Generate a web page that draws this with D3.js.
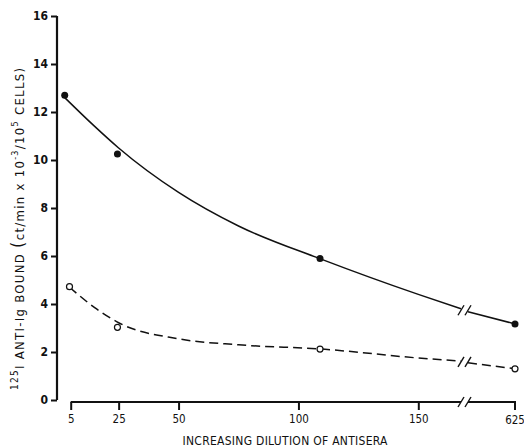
<!DOCTYPE html>
<html>
<head>
<meta charset="utf-8">
<script src="https://cdn.jsdelivr.net/npm/d3@7"></script>
<style>
  html, body { margin: 0; padding: 0; background: #fff; }
  svg { display: block; }
  .lbl { font-family: "Liberation Sans Narrow", "DejaVu Sans Condensed", "Liberation Sans", sans-serif; fill: #111; }
</style>
</head>
<body>
<svg id="chart" width="524" height="448"></svg>
<script>
// -- Data ---------------------------------------------------
const yTicks = [0, 2, 4, 6, 8, 10, 12, 14, 16];
const xTicks = [5, 25, 50, 100, 150];
const xEndTick = 625;

// measured dilutions (plot position) and bound counts
const solidDil = [2.5, 24.5, 109, 625];
const solidVal = [12.7, 10.25, 5.9, 3.17];
const openDil = [4.5, 24.5, 109, 625];
const openVal = [4.72, 3.03, 2.12, 1.3];

// hand-drawn fitted curves
const solidFitDil = [2.5, 15, 25, 50, 75, 110, 150, 167];
const solidFitVal = [12.6, 11.4, 10.5, 8.65, 7.25, 5.85, 4.4, 3.8];
const solidTailVal = [3.68, 3.17]; // break -> 625
const openFitDil = [4.5, 15, 25, 50, 75, 110, 150, 167];
const openFitVal = [4.7, 3.85, 3.22, 2.55, 2.3, 2.12, 1.75, 1.62];
const openTailVal = [1.55, 1.3];

// -- Layout ---------------------------------------------------
const svg = d3.select("#chart");
const x = d3.scaleLinear().domain([5, 150]).range([70.7, 418.3]);
const y = d3.scaleLinear().domain([0, 16]).range([400, 16]);
const breakL = 461, breakR = 468, xEnd = 515;
const axisX = 57, axisY = 402;

// -- Y axis ---------------------------------------------------
const yAxis = svg.append("g").attr("transform", `translate(${axisX},0)`)
  .call(d3.axisLeft(y).tickValues(yTicks).tickSize(6).tickPadding(3).tickFormat(d3.format("d")));
yAxis.select(".domain").attr("d", `M0,${y(16)}V${y(0)}`).attr("stroke", "#111").attr("stroke-width", 2.2);
yAxis.selectAll(".tick line").attr("stroke", "#111").attr("stroke-width", 2);
yAxis.selectAll(".tick text").attr("class", "lbl").attr("font-size", 12).attr("font-weight", "bold");

// -- X axis (with break) --------------------------------------
const xAxis = svg.append("g").attr("transform", `translate(0,${axisY})`)
  .call(d3.axisBottom(x).tickValues(xTicks).tickSize(8).tickPadding(5).tickFormat(d3.format("d")));
xAxis.select(".domain").remove();
xAxis.selectAll(".tick line").attr("stroke", "#111").attr("stroke-width", 2);
xAxis.selectAll(".tick text").attr("class", "lbl").attr("font-size", 11.5);
xAxis.append("path")
  .attr("d", `M${x(5)},0H${breakL}M${breakR},0H${xEnd}V8`)
  .attr("fill", "none").attr("stroke", "#111").attr("stroke-width", 2);
xAxis.append("text").attr("class", "lbl").attr("x", xEnd).attr("y", 22)
  .attr("text-anchor", "middle").attr("font-size", 11.5).text(xEndTick);

function slashes(g, yy) {
  [breakL, breakR].forEach(bx => {
    g.append("line").attr("x1", bx - 3).attr("y1", yy + 5).attr("x2", bx + 3).attr("y2", yy - 5)
      .attr("stroke", "#111").attr("stroke-width", 1.4);
  });
}
slashes(svg, axisY);

// -- Curves ---------------------------------------------------
const line = d3.line().curve(d3.curveMonotoneX);
function drawCurve(dil, val, tail, dash) {
  const pts = dil.map((d, i) => [x(d), y(val[i])]);
  pts[pts.length - 1][0] = breakL;
  svg.append("path").attr("d", line(pts)).attr("fill", "none").attr("stroke", "#111")
    .attr("stroke-width", 1.5).attr("stroke-dasharray", dash);
  svg.append("path").attr("d", d3.line()([[breakR, y(tail[0])], [xEnd, y(tail[1])]]))
    .attr("fill", "none").attr("stroke", "#111").attr("stroke-width", 1.5).attr("stroke-dasharray", dash);
  slashes(svg, (y(val[val.length - 1]) + y(tail[0])) / 2);
}
drawCurve(solidFitDil, solidFitVal, solidTailVal, null);
drawCurve(openFitDil, openFitVal, openTailVal, "9,5");

const px = d => d === xEndTick ? xEnd : x(d);
svg.selectAll(".dotS").data(solidDil).join("circle")
  .attr("cx", d => px(d)).attr("cy", (d, i) => y(solidVal[i])).attr("r", 3.5).attr("fill", "#111");
svg.selectAll(".dotO").data(openDil).join("circle")
  .attr("cx", d => px(d)).attr("cy", (d, i) => y(openVal[i])).attr("r", 3).attr("fill", "#fff")
  .attr("stroke", "#111").attr("stroke-width", 1.2);

// -- Titles ---------------------------------------------------
svg.append("text").attr("class", "lbl").attr("x", 285).attr("y", 445).attr("text-anchor", "middle")
  .attr("font-size", 12).attr("textLength", 205).attr("lengthAdjust", "spacing")
  .text("INCREASING DILUTION OF ANTISERA");

const yt = svg.append("text").attr("class", "lbl").attr("font-size", 13)
  .attr("textLength", 322).attr("lengthAdjust", "spacing")
  .attr("transform", "translate(24,390) rotate(-90)");
yt.append("tspan").attr("font-size", 10).attr("dy", -6).text("125");
yt.append("tspan").attr("dy", 6).text("I ANTI-Ig BOUND ");
yt.append("tspan").attr("font-size", 18).text("(");
yt.append("tspan").text("ct/min x 10");
yt.append("tspan").attr("font-size", 9).attr("dy", -6).text("-3");
yt.append("tspan").attr("dy", 6).text("/10");
yt.append("tspan").attr("font-size", 9).attr("dy", -6).text("5");
yt.append("tspan").attr("dy", 6).text(" CELLS)");
</script>
</body>
</html>
